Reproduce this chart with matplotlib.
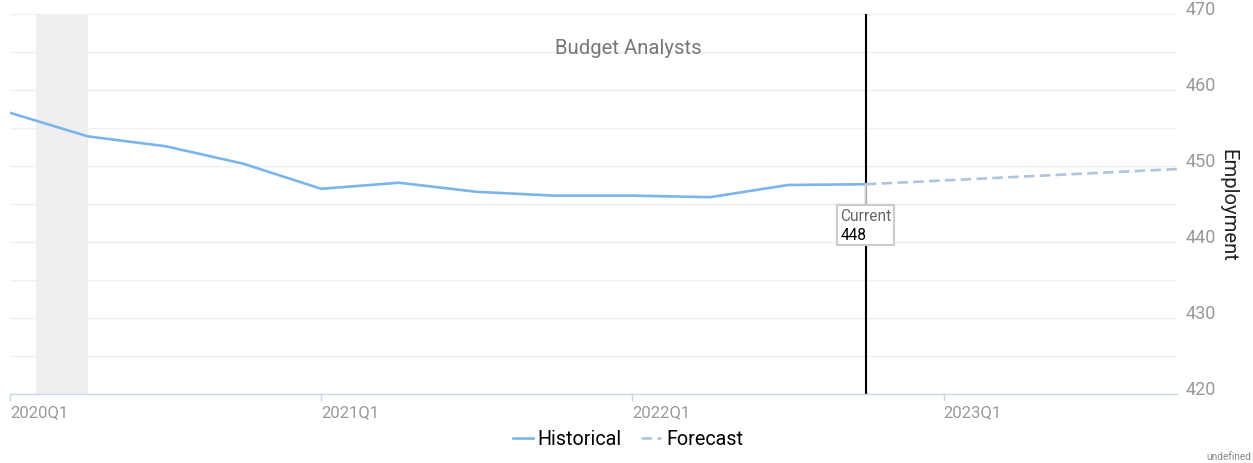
import matplotlib
matplotlib.use("Agg")
import matplotlib.pyplot as plt
from matplotlib.offsetbox import TextArea, VPacker, AnnotationBbox

plt.rcParams['font.family'] = ['Roboto', 'DejaVu Sans']

# data (employment, thousands)
quarter_labels = ["2020Q1", "2021Q1", "2022Q1", "2023Q1"]
quarter_label_pos = [0, 4, 8, 12]
hist_x = [0, 1, 2, 3, 4, 5, 6, 7, 8, 9, 10, 11]
hist_y = [457.0, 453.9, 452.6, 450.3, 447.0, 447.8, 446.6, 446.1, 446.1, 445.9, 447.5, 447.6]
fcst_x = [11, 12, 13, 14, 15]
fcst_y = [447.6, 448.1, 448.6, 449.1, 449.6]
current_x = 11
current_val = 447.6
recession = (0.33, 1.0)

W, H = 1253, 464
fig = plt.figure(figsize=(W / 100, H / 100), dpi=100)
ax = fig.add_axes([10 / W, 1 - 395 / H, (1177 - 10) / W, (395 - 15) / H])

ax.axvspan(recession[0], recession[1], color="#efefef", lw=0, zorder=0)

ax.plot(hist_x, hist_y, color="#7cb5ec", lw=1.9, zorder=3, label="Historical")
ax.plot(fcst_x, fcst_y, color="#b0c4de", lw=1.9, ls=(0, (4, 2)), zorder=3, label="Forecast")

ax.axvline(current_x, color="black", lw=1.5, zorder=2)

# current value callout
txt1 = TextArea("Current", textprops=dict(color="#666666", fontsize=11.2))
txt2 = TextArea("%d" % round(current_val), textprops=dict(color="black", fontsize=11.2))
pack = VPacker(children=[txt1, txt2], align="left", pad=0, sep=3)
ab = AnnotationBbox(pack, (current_x, current_val), xybox=(0, -29.5),
                    boxcoords="offset points", box_alignment=(0.5, 0.5), pad=0.2,
                    bboxprops=dict(edgecolor="#cccccc", facecolor="white", lw=1.5),
                    arrowprops=dict(arrowstyle="-", color="#cccccc", lw=1.5,
                                    shrinkA=0, shrinkB=0), zorder=5)
ax.add_artist(ab)

ax.set_xlim(0, 15)
ax.set_ylim(420, 470)

ax.set_yticks(range(420, 471, 10))
ax.set_yticks(range(425, 470, 10), minor=True)
ax.yaxis.tick_right()
ax.tick_params(axis="y", which="both", length=0, pad=6, labelsize=13, labelcolor="#999999")
for lab in ax.get_yticklabels():
    lab.set_va("baseline")
ax.grid(axis="y", which="both", color="#efefef", lw=1)
ax.set_axisbelow(True)

ax.set_xticks(quarter_label_pos)
ax.set_xticklabels(quarter_labels)
ax.tick_params(axis="x", length=5, width=1, color="#ccd6eb", pad=2, labelsize=12, labelcolor="#999999")
for lab in ax.get_xticklabels():
    lab.set_ha("left")

for s in ["top", "left", "right"]:
    ax.spines[s].set_visible(False)
ax.spines["bottom"].set_color("#ccd6eb")
ax.spines["bottom"].set_linewidth(1)

fig.text(628 / W, 1 - 49 / H, "Budget Analysts", ha="center", va="center", fontsize=14.6, color="#777777")
fig.text(1228 / W, 1 - 205 / H, "Employment", rotation=270, ha="center", va="center", fontsize=14.6, color="#222222")
fig.text(1251 / W, 1 - 457 / H, "undefined", ha="right", va="center", fontsize=7.3, color="#888888")

fig.legend(loc="center", bbox_to_anchor=(628 / W, 1 - 440 / H), ncol=2, frameon=False,
           fontsize=14.2, handlelength=1.0, handletextpad=0.25, columnspacing=1.0)

fig.savefig("out.png", dpi=100)
